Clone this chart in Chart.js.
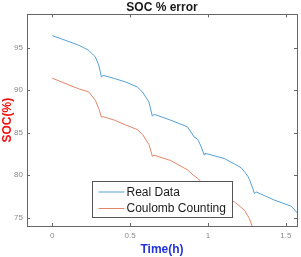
<!DOCTYPE html>
<html>
<head>
<meta charset="utf-8">
<script src="https://cdn.jsdelivr.net/npm/chart.js@4/dist/chart.umd.min.js"></script>
<style>
    html, body { margin: 0; padding: 0; background: #fff; }
    #wrap { width: 301px; height: 257px; }
</style>
</head>
<body>
<div id="wrap"><canvas id="socChart"></canvas></div>
<script>
// time (h) samples
const timeH = [0, 0.1, 0.17, 0.234, 0.277, 0.299, 0.316, 0.327, 0.4, 0.471, 0.546, 0.579, 0.621, 0.643, 0.654,
    0.761, 0.869, 0.911, 0.934, 0.955, 0.976, 0.981, 1.105, 1.17, 1.213, 1.234, 1.256, 1.266, 1.288, 1.299,
    1.31, 1.428, 1.535, 1.579];
const realData = [96.4, 95.75, 95.27, 94.68, 93.89, 92.92, 91.54, 91.74, 91.35, 90.95, 90.36, 89.78, 88.6, 86.92, 87.15,
    86.45, 85.66, 84.48, 84.2, 83.4, 82.36, 82.56, 81.94, 81.3, 80.86, 80.4, 79.86, 79.5, 78.41, 77.8,
    78.01, 77.04, 76.33, 75.45];
const coulombCounting = [91.4, 90.65, 90.15, 89.78, 88.8, 87.82, 86.8, 86.86, 86.45, 85.9, 85.35, 84.8, 83.6, 82.21, 82.33,
    81.7, 80.6, 79.9, 79.62, 79.2, 77.6, 77.8, 77.2, 76.84, 76.2, 75.86, 75.2, 74.88, 73.8, 73.0,
    73.2, 72.2, 71.5, 70.6];
const xTicks = [0, 0.5, 1, 1.5];
const yTicks = [75, 80, 85, 90, 95];

const FONT = '"Liberation Sans", Arial, sans-serif';
const BLUE = 'rgb(84, 160, 212)';
const ORANGE = 'rgb(226, 134, 100)';

function toPoints(xs, ys) {
    return xs.map((x, i) => ({ x: x, y: ys[i] }));
}

// MATLAB style box with inward ticks on every side
const boxPlugin = {
    id: 'boxPlugin',
    afterDatasetsDraw(chart) {
        const ctx = chart.ctx;
        const a = chart.chartArea;
        const xs = chart.scales.x, ys = chart.scales.y;
        const len = 3;
        ctx.save();
        ctx.strokeStyle = '#666';
        ctx.lineWidth = 1;
        ctx.beginPath();
        xTicks.forEach(v => {
            const px = Math.round(xs.getPixelForValue(v)) + 0.5;
            ctx.moveTo(px, a.bottom); ctx.lineTo(px, a.bottom - len);
            ctx.moveTo(px, a.top); ctx.lineTo(px, a.top + len);
        });
        yTicks.forEach(v => {
            const py = Math.round(ys.getPixelForValue(v)) + 0.5;
            ctx.moveTo(a.left, py); ctx.lineTo(a.left + len, py);
            ctx.moveTo(a.right, py); ctx.lineTo(a.right - len, py);
        });
        ctx.stroke();
        ctx.strokeRect(Math.round(a.left) + 0.5, Math.round(a.top) + 0.5,
            Math.round(a.right - a.left), Math.round(a.bottom - a.top));
        ctx.restore();
    }
};

// legend inside the axes, bottom centre
const legendPlugin = {
    id: 'insideLegend',
    afterDraw(chart) {
        const ctx = chart.ctx;
        const a = chart.chartArea;
        const w = 140, h = 36;
        const left = Math.round((a.left + a.right) / 2 - w / 2) + 0.5;
        const top = Math.round(a.bottom - 9 - h) + 0.5;
        ctx.save();
        ctx.fillStyle = '#fff';
        ctx.fillRect(left, top, w, h);
        ctx.strokeStyle = '#555';
        ctx.lineWidth = 1;
        ctx.strokeRect(left, top, w, h);
        ctx.font = '12px ' + FONT;
        ctx.textBaseline = 'middle';
        chart.data.datasets.forEach((ds, i) => {
            const y = top + 10.5 + i * 16.5;
            ctx.strokeStyle = ds.borderColor;
            ctx.beginPath();
            ctx.moveTo(left + 6, y);
            ctx.lineTo(left + 32, y);
            ctx.stroke();
            ctx.fillStyle = '#1a1a1a';
            ctx.fillText(ds.label, left + 34, y + 0.5);
        });
        ctx.restore();
    }
};

const ctx = document.getElementById('socChart').getContext('2d');
new Chart(ctx, {
    type: 'line',
    data: {
        datasets: [
            {
                label: 'Real Data',
                data: toPoints(timeH, realData),
                borderColor: BLUE,
                borderWidth: 1,
                pointRadius: 0,
                tension: 0
            },
            {
                label: 'Coulomb Counting',
                data: toPoints(timeH, coulombCounting),
                borderColor: ORANGE,
                borderWidth: 1,
                pointRadius: 0,
                tension: 0
            }
        ]
    },
    options: {
        responsive: true,
        maintainAspectRatio: false,
        animation: false,
        layout: { padding: { left: 0, right: 4, top: 0, bottom: 0 } },
        plugins: {
            legend: { display: false },
            tooltip: { enabled: false },
            title: {
                display: true,
                fullSize: false,
                text: 'SOC % error',
                color: '#1a1a1a',
                font: { family: FONT, size: 12, weight: 'bold' },
                padding: { top: 0, bottom: 0 }
            }
        },
        scales: {
            x: {
                type: 'linear',
                min: -0.162,
                max: 1.572,
                afterFit: s => { s.height = 31; },
                grid: { display: false, drawTicks: false },
                border: { display: false },
                ticks: {
                    includeBounds: false,
                    stepSize: 0.5,
                    padding: 5,
                    maxRotation: 0,
                    color: '#8a8a8a',
                    font: { family: FONT, size: 8 },
                    callback: v => String(v)
                },
                title: {
                    display: true,
                    text: 'Time(h)',
                    color: '#2233dd',
                    font: { family: FONT, size: 12, weight: 'bold' },
                    padding: 0
                }
            },
            y: {
                min: 74,
                max: 98.9,
                afterFit: s => { s.width = 27; },
                grid: { display: false, drawTicks: false },
                border: { display: false },
                ticks: {
                    includeBounds: false,
                    stepSize: 5,
                    padding: 4,
                    color: '#8a8a8a',
                    font: { family: FONT, size: 8 }
                },
                title: {
                    display: true,
                    text: 'SOC(%)',
                    color: '#ee1111',
                    font: { family: FONT, size: 12, weight: 'bold' },
                    padding: 0
                }
            }
        }
    },
    plugins: [boxPlugin, legendPlugin]
});
</script>
</body>
</html>
